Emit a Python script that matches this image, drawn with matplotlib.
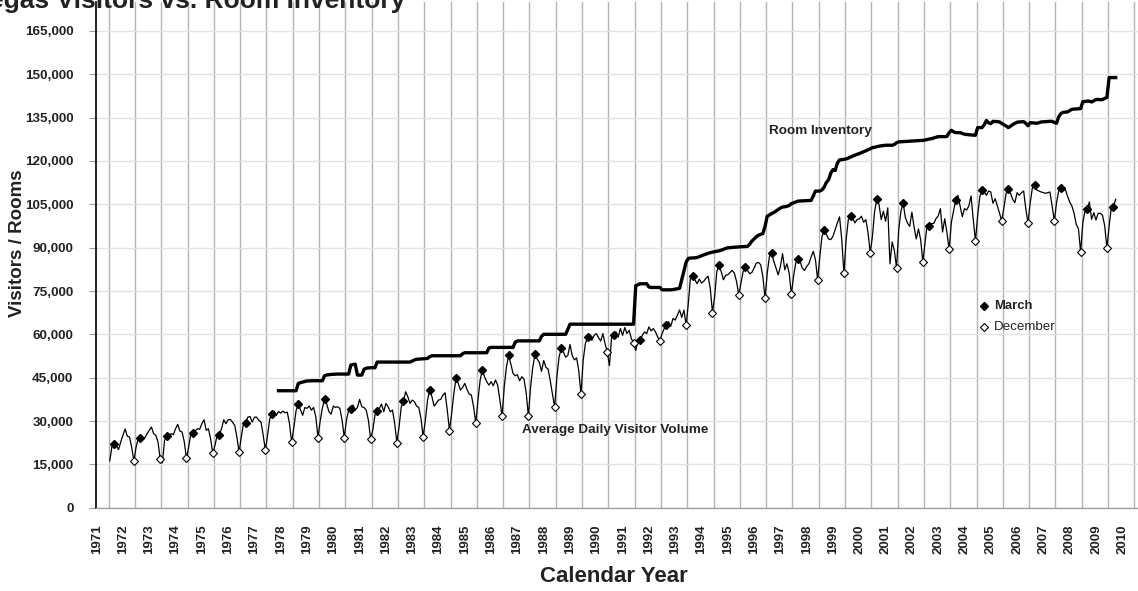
import matplotlib
matplotlib.use("Agg")
import matplotlib.pyplot as plt
import matplotlib.transforms as mtransforms
from matplotlib import font_manager
from matplotlib.ticker import FuncFormatter

names = {f.name for f in font_manager.fontManager.ttflist}
NARROW = 'Liberation Sans Narrow' in names
FONT = 'Liberation Sans Narrow' if NARROW else 'Liberation Sans'
plt.rcParams['font.family'] = [FONT, 'DejaVu Sans']
k = 1.15 if NARROW else 1.0   # narrow face can be a bit bigger

# average daily visitor volume, one row per year (Jan..Dec), last year partial
first_year = 1971
visitors = [
    [16260, 21300, 22000, 21500, 20150, 22800, 25100, 27250, 24750, 24500, 20850, 16150],
    [21070, 23930, 23980, 23930, 24160, 25650, 26800, 27940, 25650, 25080, 22790, 16950],
    [15570, 23360, 24670, 25080, 25650, 25300, 27370, 28860, 26570, 26220, 22790, 17080],
    [21070, 25650, 26050, 26570, 27370, 27140, 29080, 30460, 26800, 27370, 23930, 18800],
    [21640, 25080, 25360, 27370, 30460, 29080, 30460, 30570, 29660, 28510, 24500, 19150],
    [24500, 29080, 29380, 31370, 31600, 29660, 31370, 31370, 30230, 29660, 25080, 19950],
    [25080, 30800, 32600, 33440, 31950, 33320, 32750, 33440, 32860, 33090, 29080, 22600],
    [27900, 33600, 35940, 34000, 32000, 34700, 34400, 35200, 33800, 34700, 31500, 24320],
    [30000, 34500, 37660, 35880, 33230, 32420, 35190, 34730, 34960, 34380, 30340, 24320],
    [30340, 33800, 34330, 35530, 33800, 34730, 37500, 34960, 34730, 33800, 30340, 23860],
    [26880, 32070, 33400, 34380, 35880, 33230, 36110, 34960, 33230, 33800, 29180, 22590],
    [28030, 34960, 36970, 40150, 38420, 36110, 37270, 36690, 35190, 34730, 30920, 24550],
    [30340, 37270, 40880, 38420, 35190, 36110, 37270, 37500, 39000, 39810, 33800, 26730],
    [32650, 39580, 44790, 43040, 40730, 41650, 43040, 40960, 39340, 39000, 34960, 29260],
    [37270, 44190, 47670, 45350, 43620, 42460, 43620, 42230, 44190, 42460, 37270, 31680],
    [41880, 48810, 52700, 49770, 46510, 45690, 46040, 43940, 45340, 44530, 39860, 31700],
    [41610, 48610, 53040, 51520, 50360, 47210, 50940, 48610, 48020, 43940, 39280, 34900],
    [45110, 52110, 55150, 53850, 52110, 52690, 56530, 52690, 51170, 51870, 47440, 39270],
    [50940, 56770, 58940, 60040, 57940, 59680, 60270, 58870, 57700, 60270, 56770, 53880],
    [49190, 59100, 59630, 60850, 59100, 62020, 59680, 62370, 60270, 61430, 58520, 56990],
    [54440, 57700, 57910, 59680, 60850, 60270, 62600, 61200, 62020, 60850, 59100, 57680],
    [60270, 62020, 63080, 64340, 62830, 65510, 64930, 66680, 68430, 65860, 68430, 63080],
    [70760, 80090, 80220, 78920, 77520, 79160, 77760, 78340, 79390, 80090, 76010, 67570],
    [73090, 81840, 83900, 81700, 78900, 80400, 80650, 81430, 82120, 81190, 78300, 73670],
    [77720, 81780, 83170, 82120, 80970, 81430, 82930, 84670, 84900, 84090, 80040, 72510],
    [81200, 86990, 88030, 85250, 82930, 80620, 83510, 87910, 82350, 84440, 81200, 73900],
    [80040, 84670, 86180, 85250, 82930, 82120, 83510, 84440, 86760, 88730, 85830, 78880],
    [86990, 93940, 96020, 94520, 93010, 92780, 93940, 96250, 98570, 100660, 92780, 81080],
    [92780, 99730, 101000, 100310, 98570, 99730, 99960, 100890, 98800, 99730, 95100, 88260],
    [93940, 102630, 106680, 104940, 99730, 102630, 99150, 103780, 84400, 92000, 89000, 83050],
    [96250, 102630, 105520, 100500, 98500, 97410, 102280, 97180, 93000, 96490, 92780, 85020],
    [91730, 98080, 97530, 98310, 98430, 100040, 100960, 103500, 95420, 100040, 95190, 89430],
    [98660, 102690, 106390, 108120, 104430, 100730, 103500, 103040, 104430, 107890, 99810, 92310],
    [100960, 107660, 109850, 109270, 108120, 109620, 109270, 105350, 106960, 104430, 101890, 99230],
    [103850, 108810, 110190, 108810, 106730, 105580, 109040, 108120, 109040, 109620, 103270, 98660],
    [105580, 110770, 111690, 109960, 109620, 109270, 109040, 108810, 109040, 109270, 104430, 99230],
    [105580, 109620, 110770, 109620, 110190, 107890, 105810, 104430, 101890, 98080, 96580, 88500],
    [98660, 102690, 103500, 105810, 99810, 102120, 99580, 101890, 101890, 101190, 97500, 89770],
    [97500, 103850, 104190, 106730],
]

# room inventory, monthly, starting June 1977
rooms_start = (1977, 6)
rooms = [
    [40500, 40500, 40500, 40500, 40500, 40500, 40500],
    [40500, 40500, 43000, 43300, 43500, 43700, 43900, 43900, 43960, 43960, 43960, 43960],
    [43960, 43960, 45700, 45950, 46050, 46150, 46200, 46270, 46270, 46270, 46270, 46270],
    [46270, 46270, 49400, 49550, 49700, 45920, 45920, 45920, 47900, 48300, 48400, 48460],
    [48460, 48460, 50420, 50420, 50420, 50420, 50420, 50420, 50420, 50420, 50420, 50420],
    [50420, 50420, 50420, 50420, 50420, 50420, 50800, 51150, 51380, 51450, 51500, 51550],
    [51600, 51680, 52300, 52610, 52610, 52610, 52610, 52610, 52610, 52610, 52610, 52610],
    [52610, 52610, 52610, 52610, 52610, 53300, 53650, 53650, 53650, 53650, 53650, 53650],
    [53650, 53650, 53650, 53650, 53650, 55300, 55500, 55500, 55500, 55500, 55500, 55500],
    [55500, 55500, 55500, 55500, 55500, 57300, 57750, 57750, 57750, 57750, 57750, 57750],
    [57750, 57750, 57750, 57750, 57750, 59300, 60030, 60030, 60030, 60030, 60030, 60030],
    [60030, 60030, 60030, 60030, 60030, 61700, 63530, 63530, 63530, 63530, 63530, 63530],
    [63530, 63530, 63530, 63530, 63530, 63530, 63530, 63530, 63530, 63530, 63530, 63530],
    [63530, 63530, 63530, 63530, 63530, 63530, 63530, 63530, 63530, 63530, 63530, 63530],
    [76820, 77200, 77500, 77520, 77520, 77520, 76400, 76240, 76240, 76240, 76240, 76240],
    [75420, 75420, 75420, 75420, 75420, 75500, 75650, 75800, 75950, 79000, 82100, 85000],
    [86300, 86400, 86450, 86500, 86600, 86900, 87200, 87500, 87750, 88050, 88250, 88450],
    [88600, 88750, 88900, 89150, 89400, 89750, 89950, 90000, 90100, 90150, 90200, 90250],
    [90300, 90350, 90400, 90450, 91200, 92300, 93000, 93800, 94300, 94600, 94900, 97400],
    [100890, 101300, 101800, 102150, 102700, 103200, 103700, 104050, 104150, 104300, 104600, 105200],
    [105500, 105800, 106100, 106150, 106200, 106250, 106280, 106300, 106330, 107900, 109580, 109580],
    [109580, 110000, 111000, 112600, 113500, 115800, 117000, 116700, 119300, 120370, 120450, 120550],
    [120700, 121000, 121350, 121700, 122000, 122300, 122550, 122900, 123180, 123500, 123900, 124200],
    [124600, 124750, 124950, 125100, 125250, 125350, 125440, 125440, 125440, 125440, 125700, 126300],
    [126600, 126650, 126700, 126750, 126800, 126850, 126900, 126950, 127000, 127050, 127080, 127100],
    [127270, 127400, 127600, 127730, 127950, 128200, 128420, 128420, 128420, 128420, 128500, 129800],
    [130600, 130100, 129810, 129810, 129800, 129500, 129230, 129150, 129050, 129000, 128950, 128890],
    [131540, 131540, 131540, 132500, 134000, 133200, 132900, 133700, 133650, 133600, 133500, 133000],
    [132500, 132100, 131540, 132000, 132600, 133000, 133400, 133500, 133550, 133600, 133000, 132200],
    [133270, 133200, 133100, 133040, 133250, 133500, 133550, 133600, 133650, 133700, 133700, 133300],
    [133040, 135300, 136400, 136800, 136900, 136950, 137400, 137880, 137950, 138000, 138050, 138120],
    [140500, 140600, 140700, 140700, 140420, 140800, 141250, 141300, 141150, 141300, 141650, 142000],
    [148850, 148850, 148850, 148850],
]

year_labels = list(range(1971, 2011))
y_ticks = list(range(0, 165001, 15000))

# flatten to monthly series, x in fractional years (mid-month)
vis = [v for row in visitors for v in row]
vis_x = [first_year + (i + 0.5) / 12 for i in range(len(vis))]
room = [v for row in rooms for v in row]
r0 = (rooms_start[0] - first_year) * 12 + rooms_start[1] - 1
room_x = [first_year + (r0 + i + 0.5) / 12 for i in range(len(room))]

march_x = [vis_x[i] for i in range(len(vis)) if i % 12 == 2]
march_y = [vis[i] for i in range(len(vis)) if i % 12 == 2]
dec_x = [vis_x[i] for i in range(len(vis)) if i % 12 == 11]
dec_y = [vis[i] for i in range(len(vis)) if i % 12 == 11]

TXT = '#222222'
fig = plt.figure(figsize=(11.38, 5.91), dpi=100)
ax = fig.add_axes([95.7 / 1138, 83.2 / 591, 1 - 95.7 / 1138, 505.8 / 591])

ax.plot(room_x, room, color='black', lw=2.4, zorder=3)
ax.plot(vis_x, vis, color='black', lw=0.9, zorder=3)
ax.plot(march_x, march_y, ls='none', marker='D', ms=4.2, mfc='black', mec='black', zorder=4)
ax.plot(dec_x, dec_y, ls='none', marker='D', ms=4.2, mfc='white', mec='black', mew=0.8, zorder=4)

ax.set_xlim(1970.506, 2010.14)
ax.set_ylim(0, 175000)

ax.set_yticks(y_ticks)
ax.yaxis.set_major_formatter(FuncFormatter(lambda v, p: f"{int(v):,}"))
ax.set_xticks(year_labels)
ax.set_xticklabels([str(y) for y in year_labels], rotation=90, va='top', ha='center')

ax.grid(axis='y', color='#e3e3e3', lw=1.0, zorder=0)
ax.grid(axis='x', color='#b4b4b4', lw=1.0, zorder=0)
ax.set_axisbelow(True)

for side in ['top', 'right']:
    ax.spines[side].set_visible(False)
ax.spines['left'].set_color('black')
ax.spines['left'].set_linewidth(1.2)
ax.spines['bottom'].set_color('#a0a0a0')
ax.spines['bottom'].set_linewidth(1.0)

ax.tick_params(axis='y', length=5, width=0.8, color='#a0a0a0', pad=11, labelsize=9.7 * k)
ax.tick_params(axis='x', length=0, pad=12, labelsize=9.5 * k)
for lab in ax.get_yticklabels() + ax.get_xticklabels():
    lab.set_fontweight('bold')
    lab.set_color(TXT)

# year labels sit about half a year left of their gridline
shift = mtransforms.ScaledTranslation(-12 / 100, 0, fig.dpi_scale_trans)
for lab in ax.get_xticklabels():
    lab.set_transform(lab.get_transform() + shift)

ax.set_xlabel('Calendar Year', fontsize=16 * k, fontweight='bold', color=TXT, va='center')
ax.xaxis.set_label_coords((614 - 95.7) / 1042.3, -(577 - 507.8) / 505.8)
ax.set_ylabel('Visitors / Rooms', fontsize=13.5 * k, fontweight='bold', color=TXT, va='center')
ax.yaxis.set_label_coords((18 - 95.7) / 1042.3, (507.8 - 243) / 505.8)

ax.text(2000.0, 130400, 'Room Inventory', fontsize=9.7 * k, fontweight='bold', color=TXT,
        ha='right', va='center')
ax.text(1986.71, 26900, 'Average Daily Visitor Volume', fontsize=9.7 * k, fontweight='bold',
        color=TXT, ha='left', va='center')

# legend
ax.plot([2004.28], [69800], ls='none', marker='D', ms=4.2, mfc='black', mec='black')
ax.plot([2004.28], [62500], ls='none', marker='D', ms=4.2, mfc='white', mec='black', mew=0.8)
ax.text(2004.67, 69800, 'March', fontsize=9.4 * k, fontweight='bold', color=TXT, va='center')
ax.text(2004.67, 62500, 'December', fontsize=9.6 * k, color=TXT, va='center')

# title is clipped by the top edge in the original image
fig.text(405 / 1138, 1 - 8 / 591, 'Las Vegas Visitors vs. Room Inventory', fontsize=19,
         fontweight='bold', color=TXT, ha='right', va='baseline')

fig.savefig('out.png', dpi=100)
